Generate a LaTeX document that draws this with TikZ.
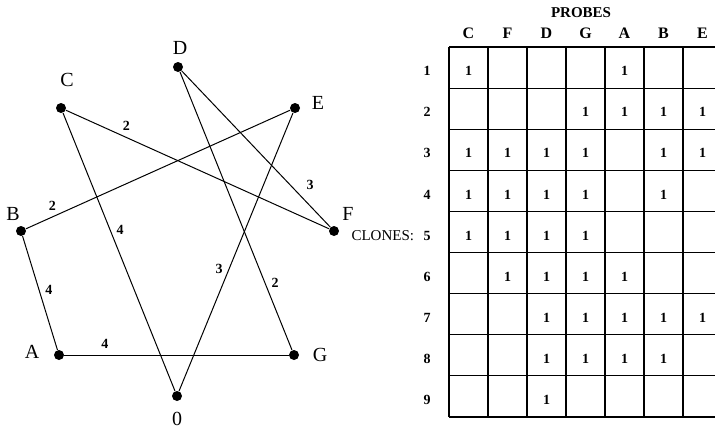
\documentclass[tikz,border=0pt]{standalone}
\usepackage{fontspec}
\setmainfont{Liberation Serif}
\usetikzlibrary{positioning}
\begin{document}
\begin{tikzpicture}[x=0.5pt,y=-0.5pt,
        punto/.style={circle,fill,inner sep=0pt,minimum size=5pt},
        etiq/.style={font=\fontsize{10}{11}\selectfont,inner sep=1pt},
        peso/.style={font=\fontsize{7}{8}\selectfont\bfseries,inner sep=3pt},
        arista/.style={line width=0.5pt},
        rejilla/.style={line width=0.6pt},
        celda/.style={font=\fontsize{7}{8}\selectfont\bfseries,inner sep=0pt}]
    \useasboundingbox (0,0) rectangle (715,430);

    % Vertices del grafo
    \node[punto] (D) at (178,67) {};
    \node[punto] (C) at (61,108) {};
    \node[punto] (E) at (295,108) {};
    \node[punto] (B) at (21,231) {};
    \node[punto] (F) at (334,231) {};
    \node[punto] (A) at (59,355) {};
    \node[punto] (G) at (294,355) {};
    \node[punto] (O) at (177,396) {};

    % Nombres de los vertices
    \node[etiq] (nD) at (180,48) {D};
    \node[etiq] (nC) at (67,80) {C};
    \node[etiq] (nE) at (318,103) {E};
    \node[etiq] (nB) at (13,214) {B};
    \node[etiq] (nF) at (348,214) {F};
    \node[etiq] (nA) at (32,352) {A};
    \node[etiq] (nG) at (320,355) {G};
    \node[etiq] (nO) at (177,419) {0};

    % Aristas con sus pesos
    \draw[arista] (C) -- node[peso,pos=.23,above] (wCF) {2} (F);
    \draw[arista] (C) -- node[peso,pos=.42,right] (wCO) {4} (O);
    \draw[arista] (D) -- node[peso,pos=.73,right=5pt] (wDF) {3} (F);
    \draw[arista] (D) -- node[peso,pos=.76,right] (wDG) {2} (G);
    \draw[arista] (E) -- node[peso,pos=.9,above] (wEB) {2} (B);
    \draw[arista] (E) -- node[peso,pos=.56,left] (wEO) {3} (O);
    \draw[arista] (B) -- node[peso,pos=.47,right] (wBA) {4} (A);
    \draw[arista] (A) -- node[peso,pos=.18,above] (wAG) {4} (G);

    % Cuadricula de la tabla
    \foreach \i in {0,...,6}
        \draw[rejilla] ({449+39*\i},47) -- ({449+39*\i},417);
    \foreach \j in {0,...,9}
        \draw[rejilla] (449,{47+41.1*\j}) -- (715,{47+41.1*\j});

    % Encabezados
    \node[font=\fontsize{7.5}{9}\selectfont\bfseries] (probes) at (581,13) {PROBES};
    \foreach \l [count=\i] in {C,F,D,G,A,B,E}
        \node[celda,font=\fontsize{8}{9}\selectfont\bfseries] (h\l) at ({449+39*\i-19.5},33) {\l};
    \foreach \r in {1,...,9}
        \node[celda] (r\r) at (427,{47+41.1*\r-17}) {\r};
    \node[font=\fontsize{7.5}{9}\selectfont,left=1pt of r5] (clones) {CLONES:};

    % Unos de la matriz
    \foreach \r/\cols in {1/{1,5}, 2/{4,5,6,7}, 3/{1,2,3,4,6,7}, 4/{1,2,3,4,6},
                          5/{1,2,3,4}, 6/{2,3,4,5}, 7/{3,4,5,6,7}, 8/{3,4,5,6}, 9/{3}}
        \foreach \c in \cols
            \node[celda] (e\r-\c) at ({449+39*\c-19.5},{47+41.1*\r-17}) {1};
\end{tikzpicture}
\end{document}
